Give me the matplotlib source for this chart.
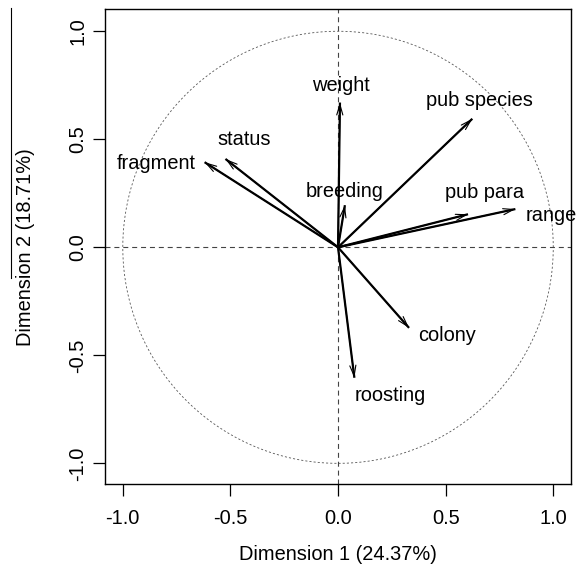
import numpy as np
import matplotlib
matplotlib.use("Agg")
import matplotlib.pyplot as plt
from matplotlib.lines import Line2D

plt.rcParams['font.family'] = ['Liberation Sans', 'DejaVu Sans']

variables = ["weight", "pub species", "status", "fragment", "breeding",
             "pub para", "range", "colony", "roosting"]
dim1 = [0.009, 0.624, -0.523, -0.620, 0.032, 0.604, 0.824, 0.330, 0.076]
dim2 = [0.670, 0.595, 0.409, 0.394, 0.195, 0.153, 0.177, -0.373, -0.604]
xlabel = "Dimension 1 (24.37%)"
ylabel = "Dimension 2 (18.71%)"
ticks = [-1.0, -0.5, 0.0, 0.5, 1.0]
tick_labels = ["-1.0", "-0.5", "0.0", "0.5", "1.0"]

# label offsets (pixels: right, down) relative to arrow tip
label_offsets_px = {
    "weight": (1, -17.5),
    "pub species": (7.6, -18.5),
    "status": (18.5, -19),
    "fragment": (-48, 1),
    "breeding": (0, -14),
    "pub para": (17, -21.5),
    "range": (36, 6),
    "colony": (38, 8),
    "roosting": (36, 18),
}

W, H = 578, 568
fig = plt.figure(figsize=(W / 100, H / 100), dpi=100)
ax = fig.add_axes([104.7 / W, 1 - 484.3 / H, (570.7 - 104.7) / W, (484.3 - 9) / H])
ax.set_xlim(-1.084, 1.081)
ax.set_ylim(-1.097, 1.103)

# unit circle
th = np.linspace(0, 2 * np.pi, 400)
ax.plot(np.cos(th), np.sin(th), color="#555555", lw=0.6, linestyle=(0, (2.5, 2.5)))
# axes through origin
ax.axhline(0, color="#444444", lw=0.8, linestyle=(0, (4.5, 3.5)))
ax.axvline(0, color="#444444", lw=0.8, linestyle=(0, (4.5, 3.5)))

for name, x, y in zip(variables, dim1, dim2):
    ax.plot([0, x], [0, y], color="black", lw=1.6, solid_capstyle="butt")
    ax.annotate("", xy=(x, y), xytext=(0, 0),
                arrowprops=dict(arrowstyle="->,head_length=0.75,head_width=0.22",
                                lw=0.8, color="black", shrinkA=0, shrinkB=0,
                                mutation_scale=10))
    dx, dy = label_offsets_px[name]
    ax.annotate(name, xy=(x, y), xytext=(dx * 0.72, -dy * 0.72),
                textcoords="offset points", ha="center", va="center",
                fontsize=14.4, color="black", annotation_clip=False)

ax.set_xticks(ticks)
ax.set_xticklabels(tick_labels)
ax.set_yticks(ticks)
ax.set_yticklabels(tick_labels, rotation=90, va="center")
ax.tick_params(axis="both", direction="out", length=8.8, width=0.9, labelsize=14.4)
ax.tick_params(axis="x", pad=9)
ax.tick_params(axis="y", pad=3.5)
for s in ax.spines.values():
    s.set_linewidth(1.0)

ax.set_xlabel(xlabel, fontsize=14.4, labelpad=12)
ax.set_ylabel(ylabel, fontsize=14.4, labelpad=24)

# stray line at the left edge
fig.add_artist(Line2D([11 / W, 11 / W], [1 - 8 / H, 1 - 278 / H], color="black", lw=0.8))

fig.savefig("out.png", dpi=100)
